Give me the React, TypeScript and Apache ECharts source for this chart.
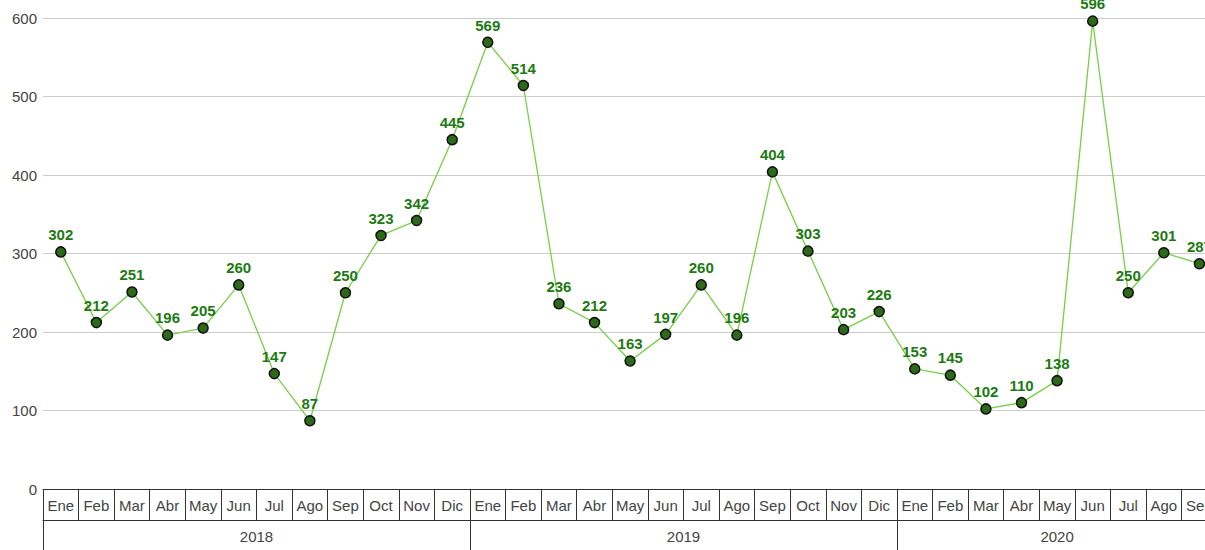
import React, { useEffect, useRef } from "react";
import * as echarts from "echarts";

const months = ["Ene","Feb","Mar","Abr","May","Jun","Jul","Ago","Sep","Oct","Nov","Dic","Ene","Feb","Mar","Abr","May","Jun","Jul","Ago","Sep","Oct","Nov","Dic","Ene","Feb","Mar","Abr","May","Jun","Jul","Ago","Sep"];
const values = [302,212,251,196,205,260,147,87,250,323,342,445,569,514,236,212,163,197,260,196,404,303,203,226,153,145,102,110,138,596,250,301,287];
const years = ["2018","2019","2020"];
const yearStarts = [0, 12, 24];
const yearCenters = [6, 18, 28.5];

export default function App() {
  const ref = useRef<HTMLDivElement>(null);
  useEffect(() => {
    if (!ref.current) return;
    const chart = echarts.init(ref.current, undefined, { renderer: "svg" });
    const font = "'Liberation Sans', Arial, sans-serif";
    chart.setOption({
      animation: false,
      backgroundColor: "#fff",
      grid: { left: 43, top: 18, width: 1174.2, bottom: 61, containLabel: false },
      xAxis: [
        {
          type: "category",
          data: months,
          boundaryGap: true,
          position: "bottom",
          axisLine: { show: true, lineStyle: { color: "#333", width: 1 } },
          axisTick: { show: true, interval: 0, length: 31, lineStyle: { color: "#333", width: 1 } },
          axisLabel: { interval: 0, margin: 9, color: "#444", fontSize: 15, fontFamily: font },
          splitLine: { show: false },
        },
        {
          type: "value",
          min: 0,
          max: 33,
          position: "bottom",
          offset: 31,
          axisLine: { show: true, onZero: false, lineStyle: { color: "#333", width: 1 } },
          axisTick: { show: true, customValues: yearStarts, length: 40, lineStyle: { color: "#333", width: 1 } },
          axisLabel: {
            customValues: yearCenters,
            margin: 9,
            color: "#444",
            fontSize: 15,
            fontFamily: font,
            formatter: (v: number) => {
              const i = yearCenters.indexOf(v);
              return i >= 0 ? years[i] : "";
            },
          },
          splitLine: { show: false },
        },
      ],
      yAxis: {
        type: "value",
        min: 0,
        max: 600,
        interval: 100,
        axisLine: { show: false },
        axisTick: { show: false },
        axisLabel: { margin: 6, color: "#444", fontSize: 15, fontFamily: font },
        splitLine: { show: true, lineStyle: { color: "#cccccc", width: 1 } },
      },
      series: [
        {
          type: "line",
          xAxisIndex: 0,
          data: values,
          symbol: "circle",
          symbolSize: 10,
          lineStyle: { color: "#76cf45", width: 1.3 },
          itemStyle: { color: "#2c6a1a", borderColor: "#111", borderWidth: 1.5 },
          label: {
            show: true,
            position: "top",
            distance: 4,
            color: "#1d7a12",
            fontWeight: "bold",
            fontSize: 15,
            fontFamily: font,
          },
          emphasis: { disabled: true },
        },
      ],
    });
    return () => chart.dispose();
  }, []);
  return (
    <div style={{ position: "fixed", left: 0, top: 0, width: 1205, height: 550, overflow: "hidden", background: "#fff" }}>
      <div ref={ref} style={{ width: 1240, height: 550 }} />
    </div>
  );
}
